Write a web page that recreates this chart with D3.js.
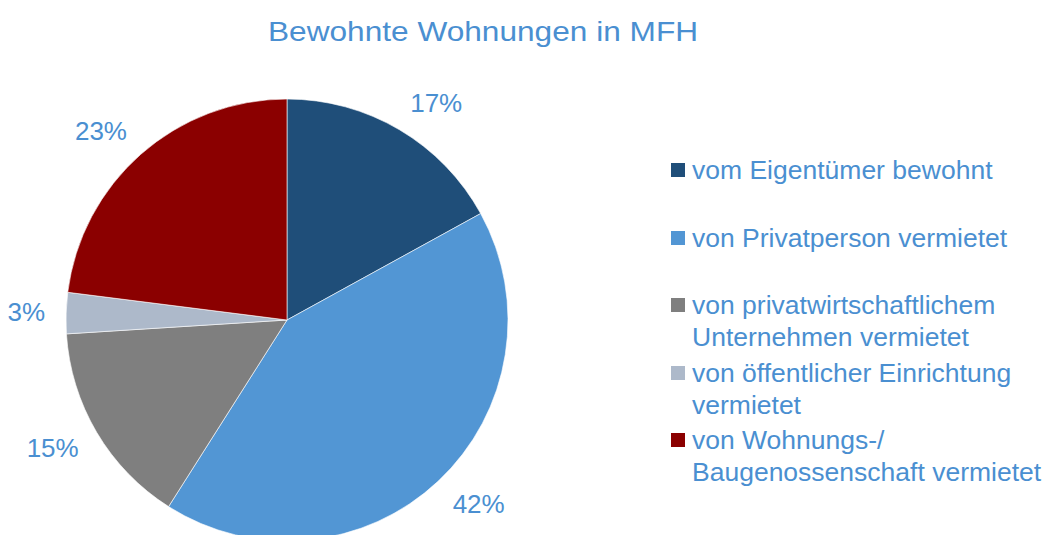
<!DOCTYPE html>
<html>
<head>
<meta charset="utf-8">
<script src="https://cdn.jsdelivr.net/npm/d3@7"></script>
<style>
  body { margin: 0; background: #fff; }
  svg { font-family: "Liberation Sans", Arial, sans-serif; }
</style>
</head>
<body>
<svg width="1046" height="535"></svg>
<script>
// Bewohnte Wohnungen in MFH - pie chart
const categories = [
  ['vom Eigentümer bewohnt'],
  ['von Privatperson vermietet'],
  ['von privatwirtschaftlichem', 'Unternehmen vermietet'],
  ['von öffentlicher Einrichtung', 'vermietet'],
  ['von Wohnungs-/', 'Baugenossenschaft vermietet']
];
const shares = [17, 42, 15, 3, 23];
const colors = ['#1f4e79', '#5296d4', '#7f7f7f', '#adb9ca', '#8b0000'];

const SVG = d3.select('svg');
const TEXT_COLOR = '#4a8fd1';
const CX = 287, CY = 320, RADIUS = 221;

const data = shares.map((v, i) => ({value: v, lines: categories[i], color: colors[i]}));

//Title
SVG.append('text')
   .attr('transform', 'translate(483, 31) scale(1.11, 1)')
   .attr('dominant-baseline', 'central')
   .style('text-anchor', 'middle')
   .style('font-size', '28.5px')
   .attr('fill', TEXT_COLOR)
   .text('Bewohnte Wohnungen in MFH');

//Pie
const pie = d3.pie().value(d => d.value).sort(null);
const arc = d3.arc().innerRadius(0).outerRadius(RADIUS);
// labels sit just outside the rim, anchored away from the pie
const labelArcX = d3.arc().innerRadius(242).outerRadius(242);
const labelArcY = d3.arc().innerRadius(252).outerRadius(252);
const pieGroup = SVG.append('g').attr('transform', `translate(${CX}, ${CY})`);
const slices = pie(data);

pieGroup.selectAll('path')
        .data(slices)
        .enter()
        .append('path')
            .attr('d', arc)
            .attr('fill', d => d.data.color)
            .attr('stroke', '#ffffff')
            .attr('stroke-width', 0.6);

pieGroup.selectAll('text')
        .data(slices)
        .enter()
        .append('text')
            .attr('x', d => labelArcX.centroid(d)[0])
            .attr('y', d => labelArcY.centroid(d)[1])
            .attr('dominant-baseline', 'central')
            .style('text-anchor', d => (d.startAngle + d.endAngle) / 2 < Math.PI ? 'start' : 'end')
            .style('font-size', '26px')
            .attr('fill', TEXT_COLOR)
            .text(d => d.data.value + '%');

//Legend
const legendY = [170, 238, 305, 373, 440];
const LINE_HEIGHT = 31.5;
const legend = SVG.append('g').selectAll('g')
   .data(data)
   .enter()
   .append('g')
      .attr('transform', (d, i) => `translate(671, ${legendY[i]})`);

legend.append('rect')
      .attr('x', 0).attr('y', -7)
      .attr('width', 14).attr('height', 14)
      .attr('fill', d => d.color);

legend.append('text')
      .attr('x', 21)
      .style('font-size', '26.5px')
      .attr('fill', TEXT_COLOR)
      .selectAll('tspan')
      .data(d => d.lines)
      .enter()
      .append('tspan')
         .attr('x', 21)
         .attr('y', (d, i) => i * LINE_HEIGHT)
         .attr('dominant-baseline', 'central')
         .text(d => d);
</script>
</body>
</html>
